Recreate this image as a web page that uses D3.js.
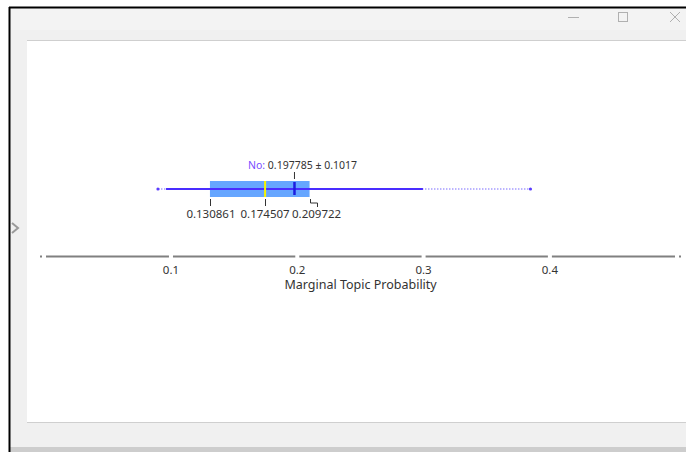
<!DOCTYPE html>
<html><head><meta charset="utf-8">
<script src="https://cdn.jsdelivr.net/npm/d3@7"></script>
<style>body{margin:0;background:#fff;}svg{display:block;font-family:"Noto Sans","Open Sans",sans-serif;}</style>
</head><body><svg id="c" width="686" height="452"></svg>
<script>
// ---- data ----
const groupName = "No";
const statMean = 0.197785;
const statSd = 0.1017;
const statMin = 0.0897;
const statMax = 0.3846;
const quartiles = [0.130861, 0.174507, 0.209722];
const tickValues = [0.1, 0.2, 0.3, 0.4];
const axisTitle = "Marginal Topic Probability";

const svg = d3.select("#c");
// window chrome
svg.append("rect").attr("x",0).attr("y",0).attr("width",686).attr("height",452).attr("fill","#fff");
svg.append("rect").attr("x",10).attr("y",8).attr("width",676).attr("height",444).attr("fill","#f0f0f0");
svg.append("rect").attr("x",10).attr("y",8).attr("width",676).attr("height",22).attr("fill","#f3f3f3");
svg.append("rect").attr("x",27).attr("y",40).attr("width",659).attr("height",383).attr("fill","#fff");
svg.append("line").attr("x1",27).attr("x2",686).attr("y1",40.5).attr("y2",40.5).attr("stroke","#cfcfcf");
svg.append("line").attr("x1",27).attr("x2",686).attr("y1",422.5).attr("y2",422.5).attr("stroke","#cfcfcf");
svg.append("rect").attr("x",10).attr("y",447).attr("width",676).attr("height",5).attr("fill","#cdcdcd");
svg.append("line").attr("x1",9).attr("x2",686).attr("y1",7.5).attr("y2",7.5).attr("stroke","#000").attr("stroke-width",2);
svg.append("line").attr("x1",9.5).attr("x2",9.5).attr("y1",7).attr("y2",452).attr("stroke","#000").attr("stroke-width",2);
// title bar controls
svg.append("line").attr("x1",568).attr("x2",579).attr("y1",17.5).attr("y2",17.5).attr("stroke","#b0b0b0");
svg.append("rect").attr("x",618.5).attr("y",12.5).attr("width",9).attr("height",9).attr("fill","none").attr("stroke","#b0b0b0");
svg.append("path").attr("d","M670,12L680,22M680,12L670,22").attr("stroke","#b0b0b0");
svg.append("path").attr("d","M12,223L18,228L12,233").attr("fill","none").attr("stroke","#9a9a9a").attr("stroke-width",2);

// ---- chart ----
const x = d3.scaleLinear().domain([-0.0029, 0.503]).range([41, 680]);
const axisY = 256.5;
const ag = svg.append("g");
const bounds = [x.domain()[0], ...tickValues, x.domain()[1]];
for (let i=0;i<bounds.length-1;i++){
  const a = x(bounds[i]) + (i===0?5:2), b = x(bounds[i+1]) - (i===bounds.length-2?5:2);
  ag.append("line").attr("x1",a).attr("x2",b).attr("y1",axisY).attr("y2",axisY).attr("stroke","#808080").attr("stroke-width",2);
}
[x.domain()[0], x.domain()[1]].forEach(v=>ag.append("rect").attr("x",x(v)-1).attr("y",axisY-1).attr("width",2).attr("height",2).attr("fill","#808080"));
ag.selectAll("text.tk").data(tickValues).join("text").attr("class","tk")
  .attr("x",d=>x(d)).attr("y",274).attr("text-anchor","middle").attr("font-size",11.5).attr("fill","#333")
  .text(d=>d3.format(".1f")(d));
ag.append("text").attr("x",(x(0.2)+x(0.4))/2 - 63).attr("y",289).attr("text-anchor","middle")
  .attr("font-size",12.5).attr("fill","#333").text(axisTitle);

const cy = 189, bh = 16;
const g = svg.append("g");
// dotted min-max
g.append("line").attr("x1",x(statMin)).attr("x2",x(statMax)).attr("y1",cy).attr("y2",cy)
  .attr("stroke","#7b6bff").attr("stroke-width",1.2).attr("stroke-dasharray","1.5,1.5");
[statMin,statMax].forEach(v=>g.append("circle").attr("cx",x(v)).attr("cy",cy).attr("r",1.6).attr("fill","#5a3cff"));
// box
g.append("rect").attr("x",x(quartiles[0])).attr("y",cy-bh/2).attr("width",x(quartiles[2])-x(quartiles[0])).attr("height",bh)
  .attr("fill","#66a6ff");
// mean ± sd solid line
g.append("line").attr("x1",x(statMean-statSd)).attr("x2",x(statMean+statSd)).attr("y1",cy).attr("y2",cy)
  .attr("stroke","#4a2dff").attr("stroke-width",2);
// median
g.append("line").attr("x1",x(quartiles[1])).attr("x2",x(quartiles[1])).attr("y1",cy-bh/2).attr("y2",cy+bh/2)
  .attr("stroke","#f5f500").attr("stroke-width",2);
// mean
g.append("line").attr("x1",x(statMean)).attr("x2",x(statMean)).attr("y1",cy-7).attr("y2",cy+6)
  .attr("stroke","#1c1ee0").attr("stroke-width",2.5);
// mean label tick
g.append("line").attr("x1",x(statMean)).attr("x2",x(statMean)).attr("y1",172).attr("y2",179).attr("stroke","#333");
const lab = g.append("text").attr("x",x(statMean)+8).attr("y",169).attr("text-anchor","middle").attr("font-size",10.5);
lab.append("tspan").attr("fill","#7a4cff").text(groupName+": ");
lab.append("tspan").attr("fill","#333").text(statMean+" \u00b1 "+statSd);
// quartile labels
const qOff = [0, 0, 7];
quartiles.forEach((q,i)=>{
  const px = Math.round(x(q))+0.5;
  if (qOff[i]===0) {
    g.append("line").attr("x1",px).attr("x2",px).attr("y1",199).attr("y2",206).attr("stroke","#333");
  } else {
    g.append("path").attr("d",`M${px},199V203H${px+qOff[i]}V207`).attr("fill","none").attr("stroke","#333");
  }
  g.append("text").attr("x",x(q)+qOff[i]+(i===0?1:0)).attr("y",218).attr("text-anchor","middle").attr("font-size",11.5).attr("fill","#333")
    .text(d3.format(".6f")(q));
});
</script></body></html>
